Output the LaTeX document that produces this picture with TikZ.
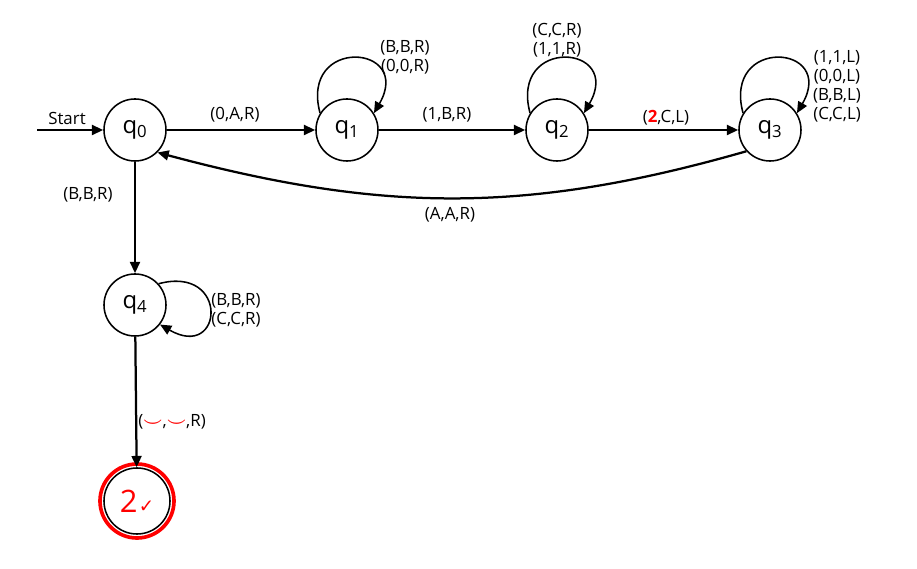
\documentclass[tikz,border=0pt]{standalone}
\usepackage{amsmath}
\usepackage{fontspec}
\setmainfont{Open Sans}
\newfontfamily\symfont{DejaVu Sans}
\usepackage{tikz}
\usetikzlibrary{arrows.meta}

\newcommand{\qstate}[1]{q\textsubscript{#1}}

\begin{document}
\begin{tikzpicture}[x=0.025cm, y=-0.025cm, font=\fontsize{12}{13.5}\selectfont,
  >={Triangle[length=8pt,width=7pt]},
  state/.style={draw, circle, line width=1.1pt, minimum size=1.55cm, inner sep=0pt, font=\fontsize{17}{20}\selectfont},
  trans/.style={->, line width=1.6pt},
  selfloop/.style={->, line width=1.1pt},
  lbl/.style={align=center, inner sep=1pt}]
\useasboundingbox (0,0) rectangle (917,569);
% states
\node[state] (q0) at (135,130) {\qstate{0}};
\node[state] (q1) at (347,130) {\qstate{1}};
\node[state] (q2) at (557,130) {\qstate{2}};
\node[state] (q3) at (770,130) {\qstate{3}};
\node[state] (q4) at (135,305) {\qstate{4}};
\node[state, minimum size=1.65cm] (qf) at (137,501) {\color{red}\fontsize{22}{22}\selectfont 2\kern1pt{\symfont\fontsize{13}{13}\selectfont ✓}};
\draw[red, line width=2.6pt] (qf.center) circle[radius=37];
\coordinate (start) at (37,130);
% transitions
\draw[trans] (start) -- (q0);
\draw[trans] (q0) -- (q1);
\draw[trans] (q1) -- (q2);
\draw[trans] (q2) -- (q3);
\draw[trans] (q3.222) to[out=196,in=-15] (q0.-45);
\draw[trans] (q0) -- (q4);
\draw[trans] (q4) -- (qf);
% self loops
\draw[selfloop] (q1.148) to[out=105,in=60,looseness=3.8] (q1.32);
\draw[selfloop] (q2.148) to[out=105,in=60,looseness=3.8] (q2.32);
\draw[selfloop] (q3.148) to[out=105,in=60,looseness=3.8] (q3.32);
\draw[selfloop] (q4.42) to[out=15,in=-30,looseness=4.6] (q4.-38);
% labels
\node[lbl] (lstart) at (67,118) {Start};
\node[lbl] (l01) at (235,115) {(0,A,R)};
\node[lbl] (l12) at (447,115) {(1,B,R)};
\node[lbl] (l23) at (666,118) {({\color{red}\textbf{2}},C,L)};
\node[lbl] (l30) at (450,215) {(A,A,R)};
\node[lbl] (l04) at (88,195) {(B,B,R)};
\node[lbl] (l4f) at (172,422) {({\color{red}$\boldsymbol{\smile}$},{\color{red}$\boldsymbol{\smile}$},R)};
\node[lbl] (loop1) at (405,57) {(B,B,R)\\(0,0,R)};
\node[lbl] (loop2) at (557,40) {(C,C,R)\\(1,1,R)};
\node[lbl] (loop3) at (837,86) {(1,1,L)\\(0,0,L)\\(B,B,L)\\(C,C,L)};
\node[lbl] (loop4) at (236,310) {(B,B,R)\\(C,C,R)};
\end{tikzpicture}
\end{document}
